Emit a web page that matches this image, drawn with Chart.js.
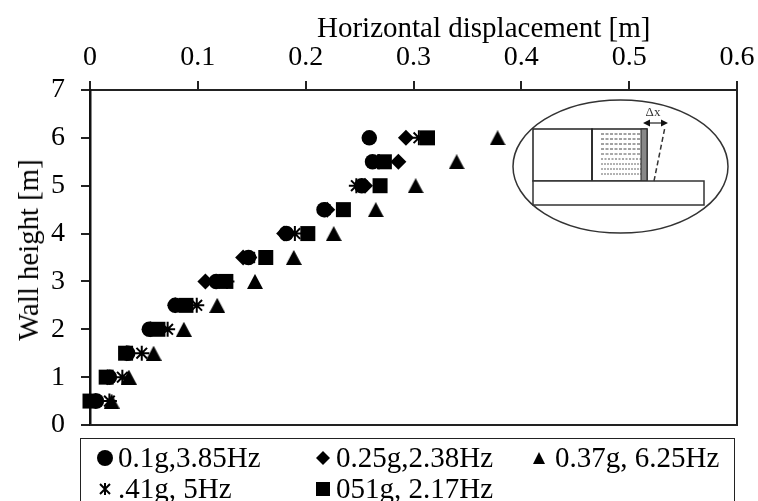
<!DOCTYPE html>
<html>
<head>
<meta charset="utf-8">
<script src="https://cdn.jsdelivr.net/npm/chart.js@4/dist/chart.umd.min.js"></script>
<style>
  html, body { margin: 0; padding: 0; background: #fff; overflow: hidden; }
  #wrap { position: relative; width: 758px; height: 501px; font-family: "Liberation Serif", serif; color: #000; overflow: hidden; }
  #chart { position: absolute; left: 0; top: 0; }
  #inset { position: absolute; left: 510px; top: 95px; }
  #xTitle { position: absolute; left: 317px; top: 10px; font-size: 29px; line-height: 34px; white-space: nowrap; }
  #yTitle { position: absolute; left: 28px; top: 250px; font-size: 28.8px; line-height: 34px; white-space: nowrap;
            transform: translate(-50%, -50%) rotate(-90deg); }
  #legend { position: absolute; left: 80px; top: 438px; width: 655px; height: 70px; box-sizing: border-box;
            border: 1.5px solid #222; font-size: 29px; line-height: 31px; }
  .item { position: absolute; white-space: nowrap; display: flex; align-items: center; }
</style>
</head>
<body>
<div id="wrap">
  <canvas id="chart" width="758" height="501"></canvas>
  <div id="xTitle">Horizontal displacement [m]</div>
  <div id="yTitle">Wall height [m]</div>
  <svg id="inset" width="235" height="155" viewBox="0 0 235 155">
    <ellipse cx="110.5" cy="71.5" rx="107.5" ry="66.5" fill="#fff" stroke="#333" stroke-width="1.5"/>
    <rect x="23" y="34" width="59" height="52" fill="none" stroke="#222" stroke-width="1.5"/>
    <rect x="82" y="34" width="55" height="52" fill="none" stroke="#222" stroke-width="1.5"/>
    <line x1="91" x2="131" y1="39" y2="39" stroke="#444" stroke-dasharray="3 1.5"/>
    <line x1="91" x2="131" y1="44" y2="44" stroke="#444" stroke-dasharray="3 1.5"/>
    <line x1="91" x2="131" y1="49" y2="49" stroke="#444" stroke-dasharray="3 1.5"/>
    <line x1="91" x2="131" y1="54" y2="54" stroke="#444" stroke-dasharray="3 1.5"/>
    <line x1="91" x2="131" y1="59" y2="59" stroke="#555" stroke-dasharray="3 1.5"/>
    <line x1="91" x2="131" y1="64" y2="64" stroke="#555" stroke-dasharray="2 1.5"/>
    <line x1="91" x2="131" y1="69" y2="69" stroke="#666" stroke-dasharray="2 1"/>
    <line x1="91" x2="131" y1="74" y2="74" stroke="#666" stroke-dasharray="2 1"/>
    <line x1="91" x2="131" y1="79" y2="79" stroke="#666" stroke-dasharray="2 1"/>
    <rect x="131" y="34" width="6" height="52" fill="#888" stroke="#222"/>
    <rect x="23" y="86" width="171" height="24" fill="#fff" stroke="#333" stroke-width="1.5"/>
    <line x1="144" y1="86" x2="155" y2="32" stroke="#333" stroke-width="1.5" stroke-dasharray="5 3"/>
    <line x1="135" x2="156" y1="28" y2="28" stroke="#222" stroke-width="1.2"/>
    <path d="M133 28l7-3.5v7zM158 28l-7-3.5v7z" fill="#111"/>
    <text x="143" y="21" font-size="13" font-family="Liberation Serif" text-anchor="middle" fill="#333">Δx</text>
  </svg>
  <div id="legend"></div>
</div>
<script>
// Hauteurs communes et déplacements
const heights = [6, 5.5, 5, 4.5, 4, 3.5, 3, 2.5, 2, 1.5, 1, 0.5];
const disp01g = [0.259, 0.262, 0.252, 0.217, 0.182, 0.147, 0.117, 0.079, 0.055, 0.035, 0.018, 0.006];
const disp025g = [0.293, 0.286, 0.255, 0.220, 0.180, 0.142, 0.107, 0.079, 0.056, 0.034, 0.016, 0.005];
const disp037g = [0.378, 0.340, 0.302, 0.265, 0.226, 0.189, 0.153, 0.118, 0.087, 0.059, 0.036, 0.020];
const disp041g = [0.305, 0.268, 0.247, 0.218, 0.190, 0.148, 0.127, 0.099, 0.072, 0.048, 0.030, 0.018];
const disp051g = [0.313, 0.273, 0.269, 0.235, 0.202, 0.163, 0.126, 0.089, 0.063, 0.033, 0.015, 0.000];

const seriesNames = ['0.1g,3.85Hz', '0.25g,2.38Hz', '0.37g, 6.25Hz', '.41g, 5Hz', '051g, 2.17Hz'];
const seriesValues = [disp01g, disp025g, disp037g, disp041g, disp051g];
const xTicks = [0, 0.1, 0.2, 0.3, 0.4, 0.5, 0.6];
const yTicks = [0, 1, 2, 3, 4, 5, 6, 7];

// Triangle centré sur son cadre (celui de Chart.js est décalé vers le haut)
function triangleMarker() {
    const c = document.createElement('canvas');
    c.width = 16;
    c.height = 15;
    const g = c.getContext('2d');
    g.fillStyle = '#000';
    g.beginPath();
    g.moveTo(8, 0);
    g.lineTo(16, 15);
    g.lineTo(0, 15);
    g.closePath();
    g.fill();
    return c;
}

const pointStyles = [
    { pointStyle: 'circle', radius: 7.75 },
    { pointStyle: 'rectRot', radius: 8 },
    { pointStyle: triangleMarker(), radius: 8 },
    { pointStyle: 'star', radius: 7.5 },
    { pointStyle: 'rect', radius: 10.6 }
];

const datasets = seriesNames.map((name, i) => ({
    label: name,
    data: seriesValues[i].map((x, j) => ({ x: x, y: heights[j] })),
    pointStyle: pointStyles[i].pointStyle,
    pointRadius: pointStyles[i].radius,
    pointBackgroundColor: '#000',
    pointBorderColor: '#000',
    pointBorderWidth: pointStyles[i].pointStyle === 'star' ? 2 : 0,
    showLine: false,
    clip: false
}));

const tickFont = { family: '"Liberation Serif"', size: 28 };

new Chart(document.getElementById('chart').getContext('2d'), {
    type: 'scatter',
    data: { datasets },
    options: {
        responsive: false,
        animation: false,
        layout: { padding: { left: 12, right: 21, top: 0, bottom: 76 } },
        plugins: { legend: { display: false }, tooltip: { enabled: false } },
        scales: {
            x: {
                position: 'top',
                min: 0, max: 0.6,
                afterBuildTicks: axis => { axis.ticks = xTicks.map(v => ({ value: v })); },
                afterFit: axis => { axis.height = 90; axis.paddingRight = 0; axis.paddingLeft = 0; },
                grid: { drawOnChartArea: false, drawTicks: true, tickLength: 9, tickColor: '#222', lineWidth: 2 },
                border: { color: '#222', width: 2 },
                ticks: { color: '#000', font: tickFont, padding: 6.5, maxRotation: 0, callback: v => String(v) }
            },
            y: {
                min: 0, max: 7,
                afterBuildTicks: axis => { axis.ticks = yTicks.map(v => ({ value: v })); },
                afterFit: axis => { axis.width = 78; },
                grid: { drawOnChartArea: false, drawTicks: true, tickLength: 9, tickColor: '#222', lineWidth: 2 },
                border: { color: '#111', width: 2.5 },
                ticks: { color: '#000', font: tickFont, padding: 16 }
            }
        }
    },
    plugins: [{
        // bordure droite et basse du cadre
        id: 'cadre',
        beforeDatasetsDraw(chart) {
            const { ctx, chartArea: a } = chart;
            ctx.save();
            ctx.strokeStyle = '#222';
            ctx.lineWidth = 2;
            ctx.beginPath();
            ctx.moveTo(a.left, a.bottom);
            ctx.lineTo(a.right, a.bottom);
            ctx.lineTo(a.right, a.top);
            ctx.stroke();
            ctx.restore();
        }
    }]
});

// Légende HTML
const legendPos = [[16, 3], [234, 3], [450, 3], [16, 34], [234, 34]];
const legendGaps = [5, 5, 8, 5, 5];
const legendMarks = [
    '<circle cx="8" cy="8" r="8"/>',
    '<path d="M8 1l7 7-7 7-7-7z"/>',
    '<path d="M8 2l6 12H2z"/>',
    '<path d="M8 2v12M3 3l10 10M13 3L3 13" stroke="#000" stroke-width="2" fill="none"/>',
    '<rect x="1" y="1" width="14" height="14"/>'
];
const legend = document.getElementById('legend');
seriesNames.forEach((name, i) => {
    const el = document.createElement('div');
    el.className = 'item';
    el.style.left = legendPos[i][0] + 'px';
    el.style.top = legendPos[i][1] + 'px';
    el.innerHTML = '<svg width="16" height="16" viewBox="0 0 16 16" style="margin-right:' + legendGaps[i] + 'px">' + legendMarks[i] + '</svg><span>' + name + '</span>';
    legend.appendChild(el);
});
</script>
</body>
</html>
